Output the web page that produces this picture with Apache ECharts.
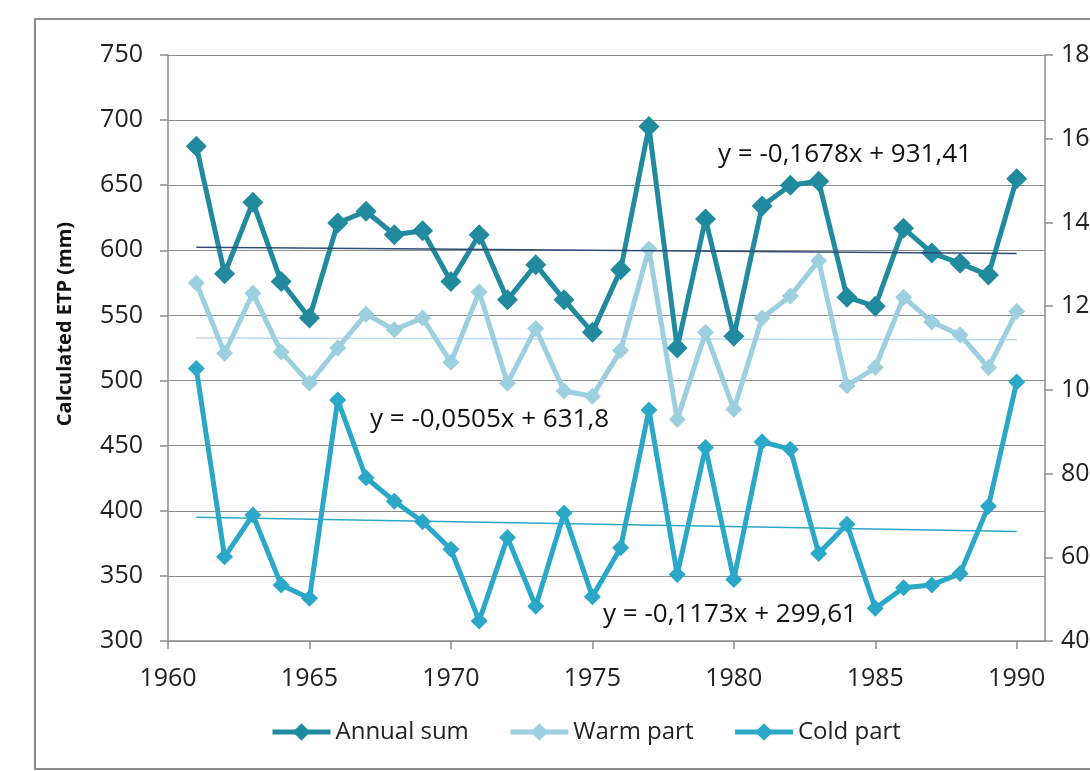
<!DOCTYPE html>
<html>
<head>
<meta charset="utf-8">
<script src="https://cdn.jsdelivr.net/npm/echarts@6/dist/echarts.min.js"></script>
<style>html,body{margin:0;padding:0;background:#fff;overflow:hidden;}#c{width:1090px;height:771px;}</style>
</head>
<body>
<div id="c"></div>
<script>
// ---- data ----
const years = [1961,1962,1963,1964,1965,1966,1967,1968,1969,1970,1971,1972,1973,1974,1975,1976,1977,1978,1979,1980,1981,1982,1983,1984,1985,1986,1987,1988,1989,1990];
const annualSum = [680,582,637,576,548,621,630,612,615,576,612,562,589,562,537,585,695,525,624,534,634,650,653,564,557,617,598,590,581,655];
const warmPart = [575,521,567,522,498,525,551,539,548,514,568,498,540,492,488,523,601,470,537,478,548,565,592,496,510,564,545,535,510,553];
const coldPart = [105.1,60.1,70.1,53.4,50.2,97.6,79.0,73.4,68.5,61.9,44.8,64.7,48.3,70.6,50.6,62.3,95.2,55.9,86.2,54.7,87.6,85.8,60.9,67.9,47.8,52.7,53.4,56.1,72.2,101.9];
const seriesNames = ['Annual sum','Warm part','Cold part'];
// linear trends: [slope, intercept]
const trendAnnual = [-0.1678, 931.41];
const trendWarm = [-0.0505, 631.8];
const trendCold = [-0.1173, 299.61];
const trendLabels = ['y = -0,1678x + 931,41','y = -0,0505x + 631,8','y = -0,1173x + 299,61'];
const xTicks = [1960,1965,1970,1975,1980,1985,1990];

const pairs = (vals) => years.map((y,i)=>[y, vals[i]]);
const trendPts = (t) => [years[0], years[years.length-1]].map(x=>[x, t[0]*x + t[1]]);

const colA = '#218a9f', colW = '#9ccfdf', colC = '#2ba8c7';
const gray = '#8c8c8c';
const FONT = '"Open Sans", "Noto Sans", sans-serif';

const chart = echarts.init(document.getElementById('c'), null, {renderer:'canvas'});
chart.setOption({
  animation:false,
  backgroundColor:'#fff',
  grid:{left:168, right:45, top:55, bottom:130, containLabel:false, outerBoundsMode:'none'},
  xAxis:{
    type:'value', min:1960, max:1991, interval:5,
    axisLine:{show:true, lineStyle:{color:gray, width:1.5}},
    axisTick:{show:true, length:8, customValues:xTicks, lineStyle:{color:gray, width:1.5}},
    axisLabel:{customValues:xTicks, formatter:(v)=>String(v), fontSize:25, fontFamily:FONT, color:'#222', margin:25},
    splitLine:{show:false}
  },
  yAxis:[{
    type:'value', min:300, max:750, interval:50,
    axisLine:{show:true, lineStyle:{color:gray, width:1.5}},
    axisTick:{show:true, length:8, lineStyle:{color:gray, width:1.5}},
    axisLabel:{fontSize:25, fontFamily:FONT, color:'#222', margin:25},
    splitLine:{show:true, lineStyle:{color:gray, width:1.2}}
  },{
    type:'value', min:40, max:180, interval:20, position:'right',
    axisLine:{show:true, lineStyle:{color:gray, width:1.5}},
    axisTick:{show:true, length:8, lineStyle:{color:gray, width:1.5}},
    axisLabel:{fontSize:25, fontFamily:FONT, color:'#222', margin:16},
    splitLine:{show:false}
  }],
  legend:{
    data:seriesNames, left:270, top:720, padding:0,
    itemWidth:58, itemHeight:22, itemGap:39,
    lineStyle:{width:5},
    textStyle:{fontSize:24, fontFamily:FONT, color:'#222'}
  },
  series:[
    {name:'Warm part', type:'line', data:pairs(warmPart), yAxisIndex:0, z:3,
     symbol:'diamond', symbolSize:17, itemStyle:{color:colW}, lineStyle:{color:colW, width:5}},
    {name:'Annual sum', type:'line', data:pairs(annualSum), yAxisIndex:0, z:4,
     symbol:'diamond', symbolSize:21, itemStyle:{color:colA}, lineStyle:{color:colA, width:5}},
    {name:'Cold part', type:'line', data:pairs(coldPart), yAxisIndex:1, z:3,
     symbol:'diamond', symbolSize:17, itemStyle:{color:colC}, lineStyle:{color:colC, width:5}},
    {name:'trendA', type:'line', data:trendPts(trendAnnual), yAxisIndex:0, z:5, silent:true,
     symbol:'none', lineStyle:{color:'#2f4d72', width:1.5}},
    {name:'trendW', type:'line', data:trendPts(trendWarm), yAxisIndex:0, z:2, silent:true,
     symbol:'none', lineStyle:{color:'#bcd9f0', width:1.5}},
    {name:'trendC', type:'line', data:trendPts(trendCold), yAxisIndex:1, z:2, silent:true,
     symbol:'none', lineStyle:{color:colC, width:1.5}}
  ],
  graphic:[
    {type:'rect', shape:{x:35, y:19, width:1100, height:750}, style:{fill:'none', stroke:gray, lineWidth:2}, silent:true, z:-1},
    {type:'text', x:65, y:324, rotation:Math.PI/2,
     style:{text:'Calculated ETP (mm)', font:'bold 20px '+FONT, fill:'#111', align:'center', verticalAlign:'middle'}},
    {type:'text', style:{x:718, y:155, text:trendLabels[0], font:'26px '+FONT, fill:'#111', align:'left', verticalAlign:'middle'}, z:10},
    {type:'text', style:{x:370, y:420, text:trendLabels[1], font:'26px '+FONT, fill:'#111', align:'left', verticalAlign:'middle'}, z:10},
    {type:'text', style:{x:603, y:615, text:trendLabels[2], font:'26px '+FONT, fill:'#111', align:'left', verticalAlign:'middle'}, z:10}
  ]
});
</script>
</body>
</html>
